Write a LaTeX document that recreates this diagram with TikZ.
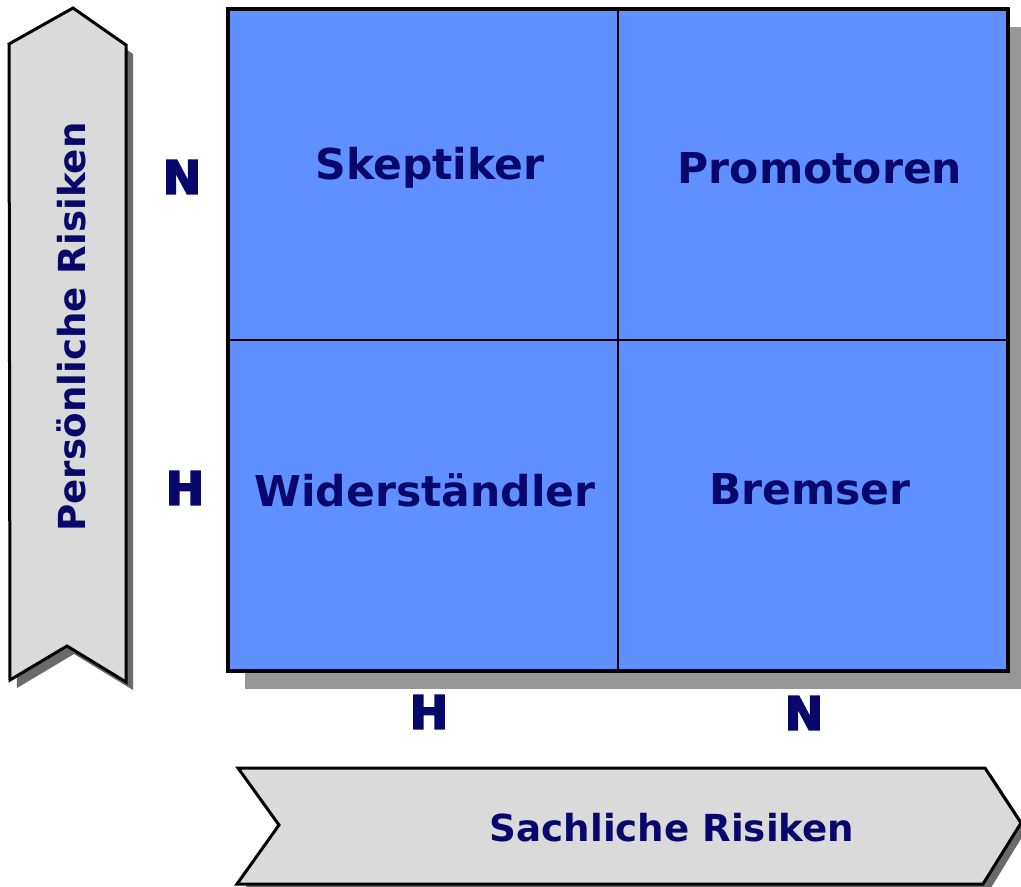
\documentclass[tikz,border=0pt]{standalone}
\usepackage{fontspec}
\setmainfont{DejaVu Sans}
\newfontfamily\markfont[FakeBold=4]{DejaVu Sans Bold}
\definecolor{cellblue}{RGB}{96,144,255}
\definecolor{labelnavy}{RGB}{8,8,108}
\definecolor{arrowgrey}{RGB}{218,218,218}
\definecolor{gridshadow}{RGB}{150,150,150}
\definecolor{arrowshadow}{RGB}{106,106,106}
\begin{document}
\begin{tikzpicture}[x=1pt,y=-1pt,
  cell/.style={draw=black,line width=2pt,fill=cellblue,minimum width=389pt,minimum height=330pt,anchor=north west,inner sep=0pt},
  celltext/.style={text=labelnavy,font=\bfseries\fontsize{42.5}{48}\selectfont,inner sep=0pt},
  axistext/.style={text=labelnavy,font=\bfseries\fontsize{37.2}{42}\selectfont,inner sep=0pt},
  levelmark/.style={text=labelnavy,font=\markfont\fontsize{46}{50}\selectfont,inner sep=0pt},
  arrowbody/.style={draw=black,line width=3pt,fill=arrowgrey,line join=miter},
]
\useasboundingbox (0,0) rectangle (1021,887);

% vertical arrow: personal risks
\fill[arrowshadow] (16,52) -- (80,17) -- (133,54) -- (133,690) -- (74,654) -- (17,688) -- cycle;
\path[arrowbody] (9,44) -- (73,8) -- (126,45) -- (126,682) -- (67,646) -- (10,680) -- cycle;
\node[axistext,rotate=90] (ylabel) at (71,327) {Persönliche Risiken};

% horizontal arrow: factual risks
\fill[arrowshadow] (244,774) -- (991,774) -- (1027,829) -- (989,891) -- (243,891) -- (285,831) -- cycle;
\path[arrowbody] (238,768) -- (985,768) -- (1021,823) -- (983,884) -- (237,884) -- (279,825) -- cycle;
\node[axistext] (xlabel) at (672,828) {Sachliche Risiken};

% matrix shadow
\fill[gridshadow] (245,27) rectangle (1030,689);

% the four quadrants
\node[cell] (tl) at (228,9) {};
\node[cell] (tr) at (617,9) {};
\node[cell] (bl) at (228,339) {};
\node[cell] (br) at (617,339) {};
\draw[line width=3.5pt] (tl.north west) rectangle (br.south east);

\node[celltext] (skep) at (430,168) {Skeptiker};
\node[celltext] (prom) at (820,168) {Promotoren};
\node[celltext] (wid) at (425,490) {Widerständler};
\node[celltext] (brem) at (810,489) {Bremser};

% level marks
\node[levelmark] (ny) at (182,177) {N};
\node[levelmark] (hy) at (185,488) {H};
\node[levelmark] (hx) at (429,712) {H};
\node[levelmark] (nx) at (804,713) {N};
\end{tikzpicture}
\end{document}
